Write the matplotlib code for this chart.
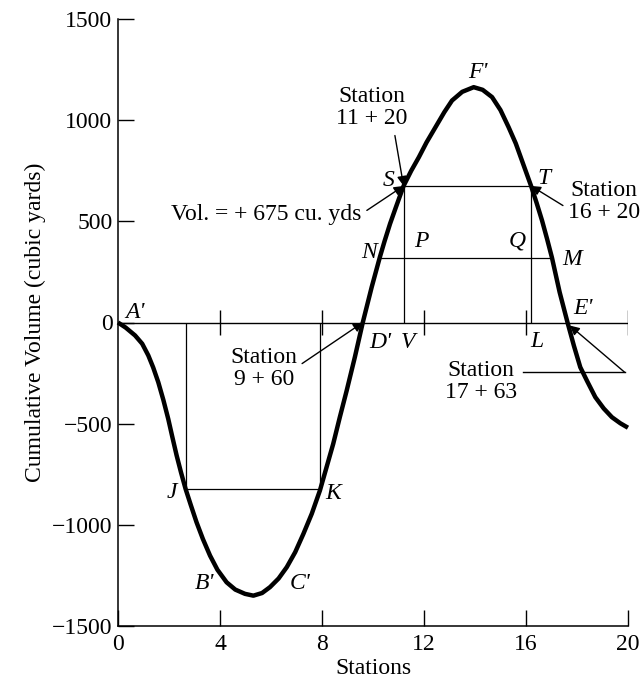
import numpy as np
import matplotlib.pyplot as plt

plt.rcParams['font.family'] = ['Liberation Serif', 'DejaVu Serif']
plt.rcParams['mathtext.fontset'] = 'stix'

# mass diagram: station (x100 ft) vs cumulative volume (cu. yd)
stations = [0, 0.3, 0.67, 0.95, 1.19, 1.38, 1.58, 1.78, 1.97, 2.13, 2.3, 2.47, 2.65,
            2.85, 3.08, 3.33, 3.61, 3.9, 4.26, 4.6, 4.98, 5.31, 5.65, 5.96, 6.3,
            6.62, 6.95, 7.27, 7.6, 7.92, 8.18, 8.44, 8.7, 8.97, 9.29, 9.6, 9.95,
            10.27, 10.45, 10.67, 10.9, 11.2, 11.5, 11.8, 12.1, 12.45, 12.8, 13.1,
            13.5, 13.95, 14.3, 14.67, 15.0, 15.32, 15.6, 15.84, 16.2, 16.42, 16.63,
            16.83, 17.02, 17.32, 17.63, 17.88, 18.13, 18.4, 18.72, 19.05, 19.37,
            19.7, 20.0]
volume = [0, -25, -64, -105, -163, -222, -295, -383, -476, -565, -657, -740, -822,
          -900, -987, -1070, -1152, -1222, -1284, -1320, -1341, -1350, -1337, -1308, -1265,
          -1209, -1135, -1045, -945, -830, -715, -600, -468, -336, -171, 0, 175,
          323, 400, 488, 570, 675, 750, 817, 890, 965, 1040, 1097,
          1140, 1163, 1150, 1114, 1050, 965, 885, 801, 675, 590, 504,
          412, 320, 150, 0, -115, -221, -290, -369, -425, -468,
          -498, -520]

zero_ticks = [4, 8, 12, 16, 20]
balance_jk = [2.65, 7.92, -825]     # x_J, x_K, volume
balance_nm = [10.27, 17.02, 320]    # x_N, x_M, volume
balance_st = [11.2, 16.2, 675]      # x_S (station 11+20), x_T (station 16+20), volume

point_labels = ["A'", "J", "K", "B'", "C'", "D'", "V", "L", "E'", "F'",
                "S", "T", "N", "M", "P", "Q"]
label_x = [0.67, 2.12, 8.43, 3.41, 7.14, 10.27, 11.37, 16.43, 18.24, 14.12,
           10.63, 16.72, 9.84, 17.8, 11.88, 15.65]
label_y = [49, -841, -845, -1290, -1290, -99, -99, -94, 69, 1235,
           702, 712, 346, 311, 401, 401]

fig = plt.figure(figsize=(6.44, 6.88), dpi=100)
ax = fig.add_axes([0.1832, 0.0901, 0.7919, 0.8823])

# zero line with station marks
ax.plot([0, 20], [0, 0], color='black', lw=1.0)
ax.vlines(zero_ticks, -60, 60, color='black', lw=1.0)

# balance lines
thin = dict(color='black', lw=0.9)
ax.plot([balance_jk[0], balance_jk[1]], [balance_jk[2], balance_jk[2]], **thin)
ax.vlines([balance_jk[0], balance_jk[1]], balance_jk[2], 0, **thin)
ax.plot([balance_nm[0], balance_nm[1]], [balance_nm[2], balance_nm[2]], **thin)
ax.plot([balance_st[0], balance_st[1]], [balance_st[2], balance_st[2]], **thin)
ax.vlines([balance_st[0], balance_st[1]], 0, balance_st[2], **thin)

# mass curve
ax.plot(stations, volume, color='black', lw=3.2, solid_joinstyle='round',
        solid_capstyle='butt', clip_on=False, zorder=5)

for lab, x, y in zip(point_labels, label_x, label_y):
    ax.text(x, y, lab, fontsize=17, style='italic', ha='center', va='center')

fs = 17
arrow = dict(arrowstyle='-|>', color='black', lw=1.0, mutation_scale=14,
             shrinkA=0, shrinkB=0)

ax.text(9.96, 1063, 'Station\n11 + 20', fontsize=fs, ha='center', va='center',
        linespacing=1.05)
ax.annotate('', xy=(11.2, 675), xytext=(10.86, 924), arrowprops=arrow)

ax.text(5.8, 534, 'Vol. = + 675 cu. yds', fontsize=fs, ha='center', va='center')
ax.annotate('', xy=(11.2, 675), xytext=(9.76, 554), arrowprops=arrow)

ax.text(19.05, 598, 'Station\n16 + 20', fontsize=fs, ha='center', va='center',
        linespacing=1.05)
ax.annotate('', xy=(16.2, 675), xytext=(17.45, 578), arrowprops=arrow)

ax.text(5.73, -227, 'Station\n9 + 60', fontsize=fs, ha='center', va='center',
        linespacing=1.05)
ax.annotate('', xy=(9.6, 0), xytext=(7.22, -203), arrowprops=arrow)

ax.text(14.24, -292, 'Station\n17 + 63', fontsize=fs, ha='center', va='center',
        linespacing=1.05)
ax.plot([15.88, 19.88], [-247, -247], color='black', lw=1.0, clip_on=False)
ax.annotate('', xy=(17.72, -15), xytext=(19.88, -247), arrowprops=arrow)

ax.set_xlim(0, 20)
ax.set_ylim(-1500, 1500)
ax.set_xticks([0, 4, 8, 12, 16, 20])
ax.set_yticks([-1500, -1000, -500, 0, 500, 1000, 1500])
ax.spines['top'].set_visible(False)
ax.spines['right'].set_visible(False)
for s in ['left', 'bottom']:
    ax.spines[s].set_linewidth(1.1)
ax.tick_params(direction='in', length=11.5, width=1.0, labelsize=17)
ax.tick_params(axis='x', pad=6)
ax.tick_params(axis='y', pad=4)
ax.set_xlabel('Stations', fontsize=17, labelpad=2)
ax.set_ylabel('Cumulative Volume (cubic yards)', fontsize=17, labelpad=4)

fig.savefig('out.png', dpi=100)
